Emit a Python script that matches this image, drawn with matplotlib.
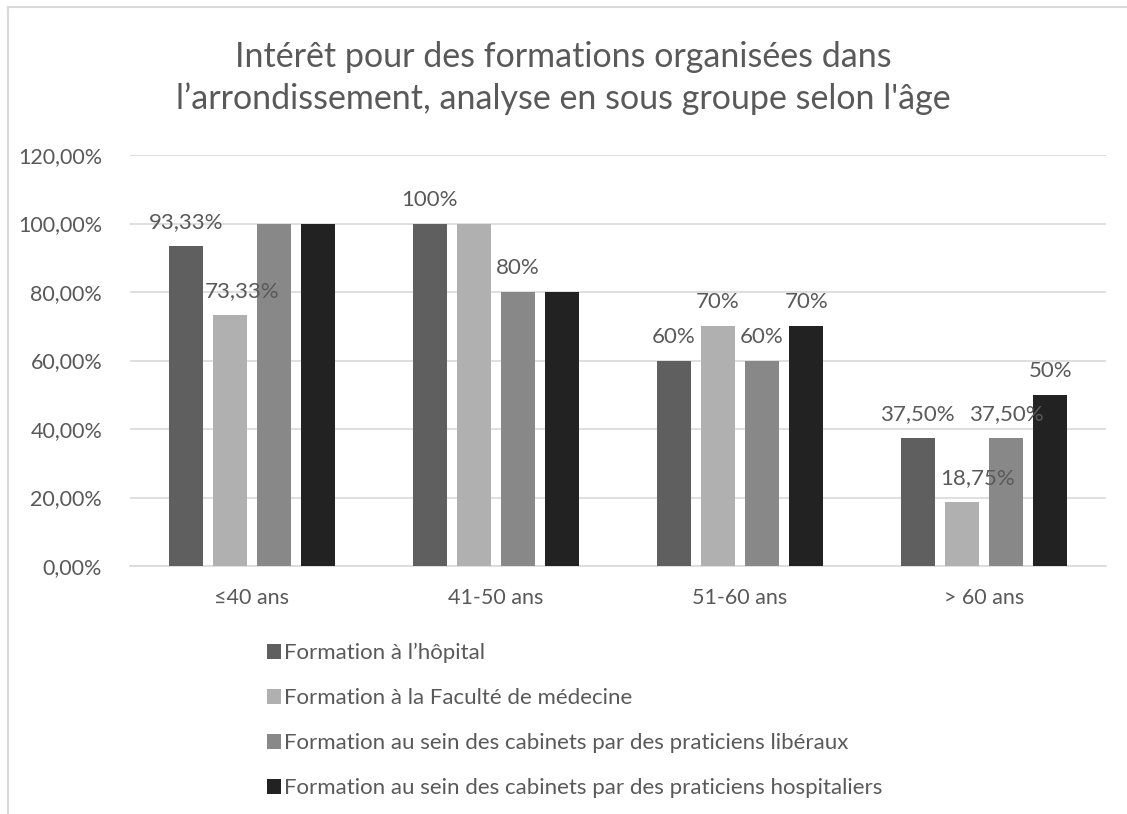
import matplotlib
matplotlib.use("Agg")
import matplotlib.pyplot as plt
from matplotlib.lines import Line2D
from matplotlib.patches import Patch
import numpy as np

plt.rcParams['font.family'] = ['Lato', 'DejaVu Sans']

categories = ["≤40 ans", "41-50 ans", "51-60 ans", "> 60 ans"]
series_names = [
    "Formation à l’hôpital",
    "Formation à la Faculté de médecine",
    "Formation au sein des cabinets par des praticiens libéraux",
    "Formation au sein des cabinets par des praticiens hospitaliers",
]
hopital = [0.9333, 1.00, 0.60, 0.375]
faculte = [0.7333, 1.00, 0.70, 0.1875]
liberaux = [1.00, 0.80, 0.60, 0.375]
hospitaliers = [1.00, 0.80, 0.70, 0.50]

labels_hopital = ["93,33%", "100%", "60%", "37,50%"]
labels_faculte = ["73,33%", None, "70%", "18,75%"]
labels_liberaux = [None, "80%", "60%", "37,50%"]
labels_hospitaliers = [None, None, "70%", "50%"]

yticks = [0, 0.2, 0.4, 0.6, 0.8, 1.0, 1.2]
ytick_labels = ["0,00%", "20,00%", "40,00%", "60,00%", "80,00%", "100,00%", "120,00%"]

title = "Intérêt pour des formations organisées dans\nl’arrondissement, analyse en sous groupe selon l'âge"

colors = ["#5f5f5f", "#b0b0b0", "#888888", "#222222"]
text_color = "#595959"

fig = plt.figure(figsize=(11.27, 8.14), dpi=100)
ax = fig.add_axes([130/1127, 1-566/814, 976/1127, 411/814])

values = [hopital, faculte, liberaux, hospitaliers]
labels = [labels_hopital, labels_faculte, labels_liberaux, labels_hospitaliers]
x = np.arange(len(categories))
width = 0.14
pitch = 0.181
offsets_pts = {(1, 0): 9, (1, 3): 11}
for i, (vals, labs) in enumerate(zip(values, labels)):
    xs = x + (i - 1.5) * pitch
    ax.bar(xs, vals, width=width, color=colors[i], label=series_names[i], zorder=3)
    for j, (xx, v, lab) in enumerate(zip(xs, vals, labs)):
        if lab is None:
            continue
        ax.annotate(lab, (xx, v), xytext=(offsets_pts.get((i, j), 0), 10),
                    textcoords="offset points", ha="center", va="bottom",
                    fontsize=16, color=text_color, zorder=5)

ax.set_xlim(-0.5, len(categories) - 0.5)
ax.set_ylim(0, 1.2)
ax.set_yticks(yticks)
ax.set_yticklabels(ytick_labels, fontsize=15.5, color=text_color)
ax.set_xticks(x)
ax.set_xticklabels(categories, fontsize=15.5, color=text_color)
ax.tick_params(axis='x', length=0, pad=16)
ax.tick_params(axis='y', length=0, pad=20)
ax.grid(axis='y', color="#d9d9d9", linewidth=1.2, zorder=0)
for s in ["top", "right", "left"]:
    ax.spines[s].set_visible(False)
ax.spines["bottom"].set_color("#d9d9d9")
ax.spines["bottom"].set_linewidth(1.2)

fig.text(0.5, 1-78/814, title, ha="center", va="center", fontsize=24.5,
         fontweight="normal", color=text_color, linespacing=1.33)

handles = [Patch(facecolor=c) for c in colors]
leg = fig.legend(handles, series_names, loc="upper left",
                 bbox_to_anchor=(256/1127, 1-632/814), frameon=False,
                 fontsize=16, handlelength=0.62, handleheight=0.62,
                 handletextpad=0.15, labelspacing=1.12, borderpad=0)
for t in leg.get_texts():
    t.set_color(text_color)

# chart area border
fig.add_artist(Line2D([8/1127, 1.0], [1-7/814, 1-7/814], color="#d9d9d9", linewidth=1.5))
fig.add_artist(Line2D([8/1127, 8/1127], [0, 1-7/814], color="#d9d9d9", linewidth=1.5))

fig.savefig("out.png", dpi=100)
